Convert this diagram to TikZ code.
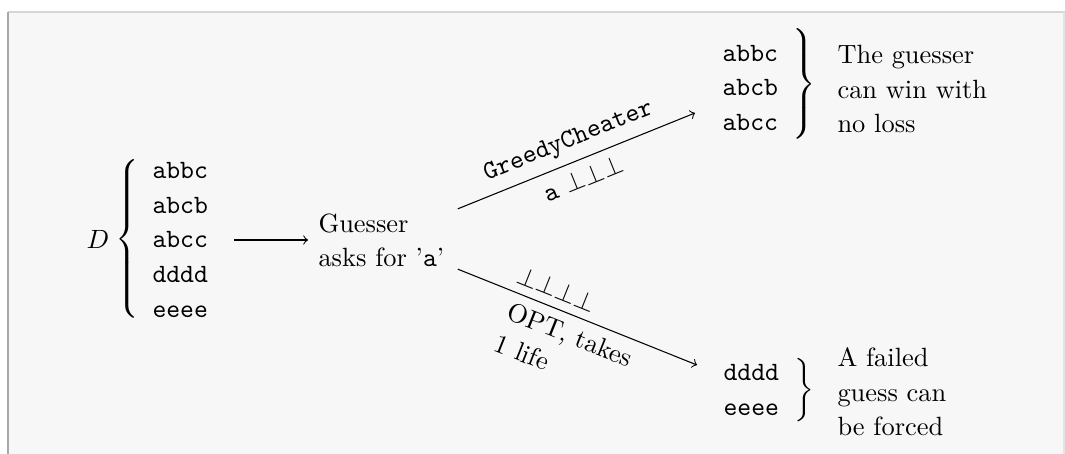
\documentclass[tikz,border=0pt]{standalone}
\usepackage{amsmath}
\definecolor{bgc}{HTML}{F7F7F7}
\definecolor{topc}{HTML}{D6D6D6}
\definecolor{leftc}{HTML}{A8A8A8}
\definecolor{rightc}{HTML}{E4E4E4}
\begin{document}
\begin{tikzpicture}[x=0.3788pt,y=-0.3788pt,
  txt/.style={font=\fontsize{10}{13}\selectfont, align=left, inner sep=0pt},
  lst/.style={font=\ttfamily\fontsize{10}{13.1}\selectfont, align=left, inner sep=0pt},
  brc/.style={inner sep=0pt},
  conn/.style={->}]
\useasboundingbox (0,0) rectangle (1065,454);
\fill[bgc] (8,12) rectangle (1065,454);
\draw[topc] (8,12) -- (1065,12);
\draw[leftc] (8,12) -- (8,454);
\draw[rightc] (1064,12) -- (1064,454);
% left group
\node (D) at (98,239) {$D$};
\node[brc] (lb) at (129,239) {$\left\{\vrule height 35pt depth 30pt width 0pt\right.$};
\node[lst, anchor=west] (L) at (152,240) {abbc\\abcb\\abcc\\dddd\\eeee};
\node[txt, anchor=west] (G) at (318,240) {Guesser\\asks for '\texttt{a}'};
\draw[conn] ([shift={(26,0)}]L.east) -- ([shift={(-10,0)}]G.west);
% upper right group
\node[lst, anchor=west] (U) at (722,88) {abbc\\abcb\\abcc};
\node[brc] (ub) at (803,84) {$\left.\vrule height 24pt depth 19pt width 0pt\right\}$};
\node[txt, anchor=west] (UT) at (837,89) {The guesser\\can win with\\no loss};
% lower right group
\node[lst, anchor=west] (W) at (723,390) {dddd\\eeee};
\node[brc] (wb) at (803,390) {$\left.\vrule height 15pt depth 10pt width 0pt\right\}$};
\node[txt, anchor=west] (WT) at (837,392) {A failed\\guess can\\be forced};
% arrow tips
\coordinate (t1) at (695,113);
\coordinate (t2) at (697,365);
\draw[conn] ([shift={(13,-4)}]G.north east) --
  node[sloped, above]{\texttt{GreedyCheater}}
  node[sloped, below]{\texttt{a} $\perp\perp\perp$} (t1);
\draw[conn] ([shift={(13,2)}]G.south east) --
  node[sloped, above, pos=0.385]{$\perp\perp\perp\perp$}
  node[sloped, below, align=left, font=\fontsize{10}{13}\selectfont]{OPT, takes\\1 life} (t2);
\end{tikzpicture}
\end{document}
